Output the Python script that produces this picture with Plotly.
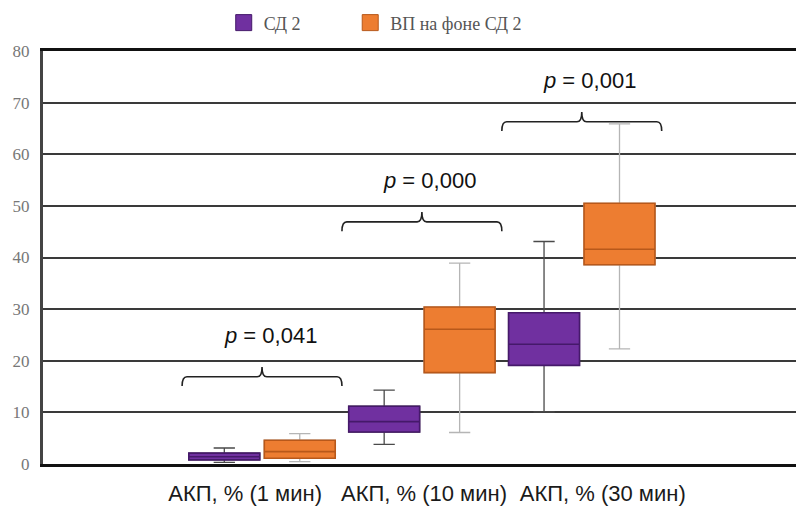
import plotly.graph_objects as go

# ---- data ----
categories = ["АКП, % (1 мин)", "АКП, % (10 мин)", "АКП, % (30 мин)"]
series_names = ["СД 2", "ВП на фоне СД 2"]

sd2_min = [0.3, 3.8, 10.1]
sd2_q1 = [0.8, 6.2, 19.1]
sd2_med = [1.4, 8.2, 23.2]
sd2_q3 = [2.1, 11.2, 29.3]
sd2_max = [3.1, 14.3, 43.1]

vp_min = [0.45, 6.1, 22.3]
vp_q1 = [1.1, 17.7, 38.6]
vp_med = [2.4, 26.1, 41.6]
vp_q3 = [4.6, 30.4, 50.5]
vp_max = [5.9, 38.9, 65.9]

p_values = ["0,041", "0,000", "0,001"]

# ---- layout constants ----
pos = list(range(len(categories)))
label_shift = [-0.106, 0.013, 0.131]
bracket_y = [16.9, 46.9, 66.3]

PURPLE = "#7030A0"
PURPLE_DK = "#45196A"
ORANGE = "#ED7D31"
ORANGE_DK = "#B8581A"

fig = go.Figure()

def add_series(name, og, lg, lo, q1, med, q3, hi, fill, edge, whisk):
    # whisker layer
    fig.add_trace(go.Box(
        x=pos, q1=q1, median=med, q3=q3, lowerfence=lo, upperfence=hi,
        offsetgroup=og, fillcolor=fill, line=dict(color=whisk, width=1.3),
        whiskerwidth=0.3, showlegend=False, hoverinfo="skip"))
    # box layer
    fig.add_trace(go.Box(
        x=pos, q1=q1, median=med, q3=q3, lowerfence=q1, upperfence=q3,
        offsetgroup=og, fillcolor=fill, line=dict(color=edge, width=1.6),
        whiskerwidth=0, showlegend=False, name=name))
    # legend entry
    fig.add_trace(go.Scatter(
        x=[None], y=[None], mode="markers", name=name, legend=lg,
        marker=dict(symbol="square", size=20, color=fill,
                    line=dict(color=edge, width=1))))

add_series(series_names[0], "a", "legend", sd2_min, sd2_q1, sd2_med, sd2_q3,
           sd2_max, PURPLE, PURPLE_DK, "#4a4a4a")
add_series(series_names[1], "b", "legend2", vp_min, vp_q1, vp_med, vp_q3,
           vp_max, ORANGE, ORANGE_DK, "#b5b5b5")

# brackets and p-values
for c, yb, pv in zip(pos, bracket_y, p_values):
    x0, x1, xc = c - 0.5, c + 0.5, c
    ye, yt = yb - 1.8, yb + 1.9
    dx = 0.03
    path = (f"M {x0},{ye} Q {x0},{yb} {x0+dx},{yb} "
            f"L {xc-dx},{yb} Q {xc},{yb} {xc},{yt} "
            f"Q {xc},{yb} {xc+dx},{yb} "
            f"L {x1-dx},{yb} Q {x1},{yb} {x1},{ye}")
    fig.add_shape(type="path", path=path, xref="x", yref="y",
                  line=dict(color="#222222", width=1.6))
    fig.add_annotation(x=c + 0.05, y=yb + 8, xref="x", yref="y",
                       text=f"<i>p</i> = {pv}", showarrow=False,
                       font=dict(family="Liberation Sans, Arial", size=22,
                                 color="#111111"))

legend_font = dict(family="Liberation Serif, Times New Roman",
                   size=18, color="#555555")

fig.update_layout(
    width=796, height=507,
    margin=dict(l=43, r=0, t=51, b=43, autoexpand=False),
    paper_bgcolor="white", plot_bgcolor="white",
    boxmode="group", boxgap=0.056, boxgroupgap=0.06,
    legend=dict(orientation="h", x=0.240, xanchor="left",
                y=1.068, yanchor="middle", font=legend_font,
                bgcolor="rgba(0,0,0,0)"),
    legend2=dict(orientation="h", x=0.408, xanchor="left",
                 y=1.068, yanchor="middle", font=legend_font,
                 bgcolor="rgba(0,0,0,0)"),
    xaxis=dict(range=[-1.37, 3.34], tickmode="array",
               tickvals=[p + s for p, s in zip(pos, label_shift)],
               ticktext=categories, showgrid=False, zeroline=False,
               showline=True, mirror=True, linecolor="#111111", linewidth=3,
               ticks="", ticklabelstandoff=8, automargin=False,
               tickfont=dict(family="Liberation Sans, Arial", size=22,
                             color="#1a1a1a")),
    yaxis=dict(range=[0, 80], tick0=0, dtick=10, showgrid=True,
               gridcolor="#3a3a3a", gridwidth=2, zeroline=False,
               showline=True, linecolor="#444444", linewidth=3,
               ticks="", ticklabelstandoff=7, automargin=False,
               tickfont=dict(family="Liberation Serif, Times New Roman",
                             size=17, color="#777777")),
)

fig.write_html("out.html", config={"displayModeBar": False},
               post_script="document.body.style.margin='0';")
